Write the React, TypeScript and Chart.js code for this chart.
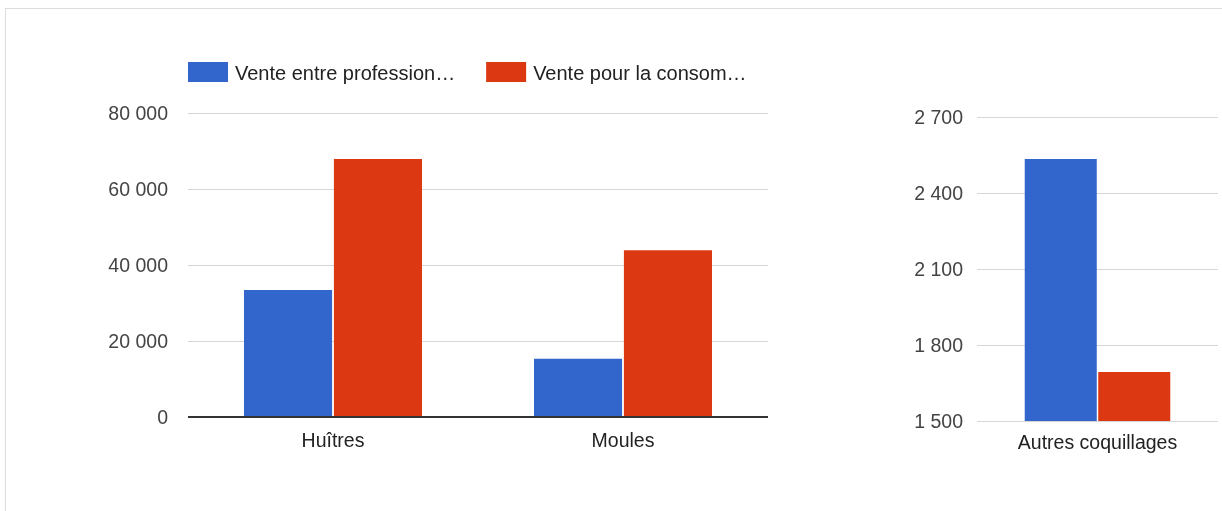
import React, { useEffect, useRef } from "react";
import { Chart, registerables } from "chart.js";

Chart.register(...registerables);

const seriesNames = ["Vente entre professionnels", "Vente pour la consommation"];
const legendLabels = ["Vente entre profession…", "Vente pour la consom…"];
const mainCategories = ["Huîtres", "Moules"];
const mainPro = [33400, 15300];
const mainConso = [67900, 43900];
const otherCategories = ["Autres coquillages"];
const otherPro = [2534];
const otherConso = [1693];
const mainTicks = [0, 20000, 40000, 60000, 80000];
const otherTicks = [1500, 1800, 2100, 2400, 2700];
const seriesColors = ["#3366cc", "#dc3912"];

const FONT = "'Liberation Sans', Arial, sans-serif";
const FONT_SIZE = 19.5;
const LEGEND_FONT_SIZE = 20;

const fmt = (v: number | string) =>
  String(Math.round(Number(v))).replace(/\B(?=(\d{3})+(?!\d))/g, " ");

const legendPlugin = {
  id: "customLegend",
  afterDraw(chart: any) {
    const ctx = chart.ctx;
    const left = chart.chartArea.left;
    ctx.save();
    ctx.font = `${LEGEND_FONT_SIZE}px ${FONT}`;
    ctx.textBaseline = "middle";
    ctx.textAlign = "left";
    let x = left;
    const yMid = 72;
    legendLabels.forEach((lab, i) => {
      ctx.fillStyle = seriesColors[i];
      ctx.fillRect(x, yMid - 10, 40, 20);
      ctx.fillStyle = "#222";
      ctx.fillText(lab, x + 47, yMid + 2);
      x += 47 + ctx.measureText(lab).width + 31;
    });
    ctx.restore();
  },
};

const baselinePlugin = {
  id: "zeroBaseline",
  afterDatasetsDraw(chart: any) {
    const y = chart.scales.y.getPixelForValue(0);
    const ctx = chart.ctx;
    ctx.save();
    ctx.strokeStyle = "#333";
    ctx.lineWidth = 2;
    ctx.beginPath();
    ctx.moveTo(chart.chartArea.left, Math.round(y));
    ctx.lineTo(chart.chartArea.right, Math.round(y));
    ctx.stroke();
    ctx.restore();
  },
};

function makeConfig(
  categories: string[],
  pro: number[],
  conso: number[],
  ticks: number[],
  opts: {
    padTop: number;
    padRight: number;
    yWidth: number;
    xHeight: number;
    yPad: number;
    xPad: number;
    catPct: number;
    zeroBase: boolean;
  },
  plugins: any[]
): any {
  return {
    type: "bar",
    data: {
      labels: categories,
      datasets: [
        {
          label: seriesNames[0],
          data: pro,
          backgroundColor: seriesColors[0],
          borderWidth: 0,
          categoryPercentage: opts.catPct,
          barPercentage: 0.98,
        },
        {
          label: seriesNames[1],
          data: conso,
          backgroundColor: seriesColors[1],
          borderWidth: 0,
          categoryPercentage: opts.catPct,
          barPercentage: 0.98,
        },
      ],
    },
    options: {
      responsive: false,
      animation: false,
      devicePixelRatio: 1,
      layout: {
        padding: { top: opts.padTop, right: opts.padRight, left: 0, bottom: 0 },
      },
      plugins: {
        legend: { display: false },
        tooltip: { enabled: false },
        title: { display: false },
      },
      scales: {
        x: {
          grid: { display: false, drawTicks: false },
          border: { display: false },
          ticks: {
            color: "#222",
            padding: opts.xPad,
            font: { family: FONT, size: FONT_SIZE },
            maxRotation: 0,
          },
          afterFit: (s: any) => {
            s.height = opts.xHeight;
          },
        },
        y: {
          min: ticks[0],
          max: ticks[ticks.length - 1],
          grid: {
            drawTicks: false,
            color: (c: any) =>
              opts.zeroBase && c.tick && c.tick.value === 0 ? "rgba(0,0,0,0)" : "#d6d6d6",
            lineWidth: 1,
          },
          border: { display: false },
          afterBuildTicks: (s: any) => {
            s.ticks = ticks.map((v) => ({ value: v }));
          },
          ticks: {
            color: "#444",
            padding: opts.yPad,
            labelOffset: 2,
            font: { family: FONT, size: FONT_SIZE },
            callback: (v: any) => fmt(v),
          },
          afterFit: (s: any) => {
            s.width = opts.yWidth;
          },
        },
      },
    },
    plugins,
  };
}

export default function App() {
  const leftRef = useRef<HTMLCanvasElement>(null);
  const rightRef = useRef<HTMLCanvasElement>(null);

  useEffect(() => {
    Chart.defaults.font.family = FONT;
    const left = new Chart(
      leftRef.current as HTMLCanvasElement,
      makeConfig(
        mainCategories,
        mainPro,
        mainConso,
        mainTicks,
        {
          padTop: 113,
          padRight: 52,
          yWidth: 188,
          xHeight: 94,
          yPad: 20,
          xPad: 13,
          catPct: 0.62,
          zeroBase: true,
        },
        [legendPlugin, baselinePlugin]
      )
    );
    const right = new Chart(
      rightRef.current as HTMLCanvasElement,
      makeConfig(
        otherCategories,
        otherPro,
        otherConso,
        otherTicks,
        {
          padTop: 117,
          padRight: 4,
          yWidth: 127,
          xHeight: 90,
          yPad: 14,
          xPad: 11,
          catPct: 0.61,
          zeroBase: false,
        },
        []
      )
    );
    return () => {
      left.destroy();
      right.destroy();
    };
  }, []);

  return (
    <div
      style={{
        position: "fixed",
        left: 0,
        top: 0,
        width: 1222,
        height: 511,
        overflow: "hidden",
        background: "#fff",
      }}
    >
      <div
        style={{
          position: "absolute",
          left: 5,
          top: 8,
          width: 1400,
          height: 700,
          border: "1px solid #dddddd",
          boxSizing: "border-box",
        }}
      />
      <canvas
        ref={leftRef}
        width={820}
        height={511}
        style={{ position: "absolute", left: 0, top: 0, width: 820, height: 511 }}
      />
      <canvas
        ref={rightRef}
        width={372}
        height={511}
        style={{ position: "absolute", left: 850, top: 0, width: 372, height: 511 }}
      />
    </div>
  );
}
